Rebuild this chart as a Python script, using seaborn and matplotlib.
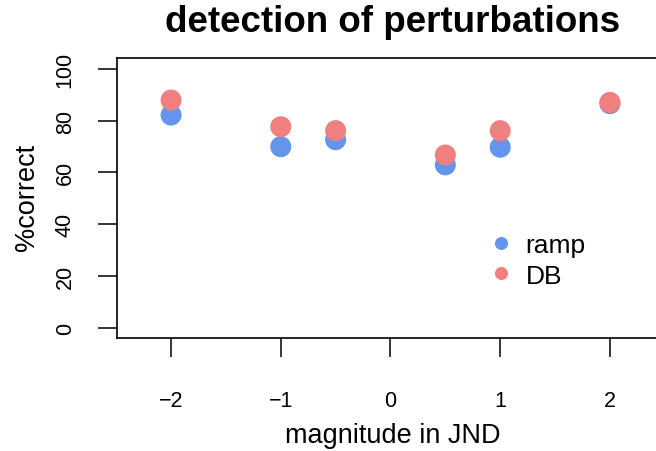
import pandas as pd
import matplotlib
matplotlib.use("Agg")
import matplotlib.pyplot as plt
from matplotlib.lines import Line2D
import seaborn as sns

# values
magnitude = [-2, -1, -0.5, 0.5, 1, 2]
ramp = [82.1, 69.9, 72.6, 62.9, 69.7, 86.5]
db = [87.9, 77.6, 76.1, 66.7, 76.1, 87.0]
conditions = ["ramp", "DB"]
colors = {"ramp": "#6495ED", "DB": "#F08080"}

df = pd.concat([
    pd.DataFrame({"magnitude": magnitude, "pc": ramp, "cond": "ramp"}),
    pd.DataFrame({"magnitude": magnitude, "pc": db, "cond": "DB"}),
])

sns.set_style("white")
plt.rcParams["font.family"] = ["Liberation Sans", "DejaVu Sans"]
plt.rcParams["text.color"] = "black"
plt.rcParams["xtick.color"] = "black"
plt.rcParams["ytick.color"] = "black"

W, H = 656, 452
fig = plt.figure(figsize=(W / 100, H / 100), dpi=100)
# axes in pixel coords (box runs off the right edge like the original)
left, right, top, bottom = 117.3, 673, 59.3, 338.5
ax = fig.add_axes([left / W, 1 - bottom / H, (right - left) / W, (bottom - top) / H])

sns.scatterplot(data=df, x="magnitude", y="pc", hue="cond", hue_order=conditions,
                palette=colors, s=229, linewidth=0, alpha=1, legend=False, ax=ax)

ax.set_xlim(-2.49, 2.575)
ax.set_ylim(-3.7, 104)
ax.set_xticks([-2, -1, 0, 1, 2])
ax.set_yticks([0, 20, 40, 60, 80, 100])
ax.set_xlabel("")
ax.set_ylabel("")
for sp in ax.spines.values():
    sp.set_color("black")
    sp.set_linewidth(1.2)
ax.tick_params(axis="both", direction="out", length=14, width=1.1, colors="black",
               labelsize=15.5, left=True, bottom=True)
ax.tick_params(axis="x", pad=24)
ax.tick_params(axis="y", pad=16)
plt.setp(ax.get_yticklabels(), rotation=90, va="center")

handles = [Line2D([], [], marker="o", linestyle="", markersize=9.4,
                  markerfacecolor=colors[c], markeredgewidth=0) for c in conditions]
ax.legend(handles, conditions, loc="upper left", frameon=False, fontsize=19,
          handlelength=1.0, handletextpad=0.42, labelspacing=0.25, borderpad=0,
          borderaxespad=0, labelcolor="black",
          bbox_to_anchor=(488 / W, 1 - 234 / H), bbox_transform=fig.transFigure)

cx = 393 / W
fig.text(cx, 1 - 32 / H, "detection of perturbations", ha="center", va="baseline",
         fontsize=26.5, fontweight="bold", color="black")
fig.text(cx, 1 - 436 / H, "magnitude in JND", ha="center", va="center", fontsize=19.5,
         color="black")
fig.text(27 / W, 1 - 197 / H, "%correct", ha="center", va="center", rotation=90,
         fontsize=19.5, color="black")

fig.savefig("out.png", dpi=100)
